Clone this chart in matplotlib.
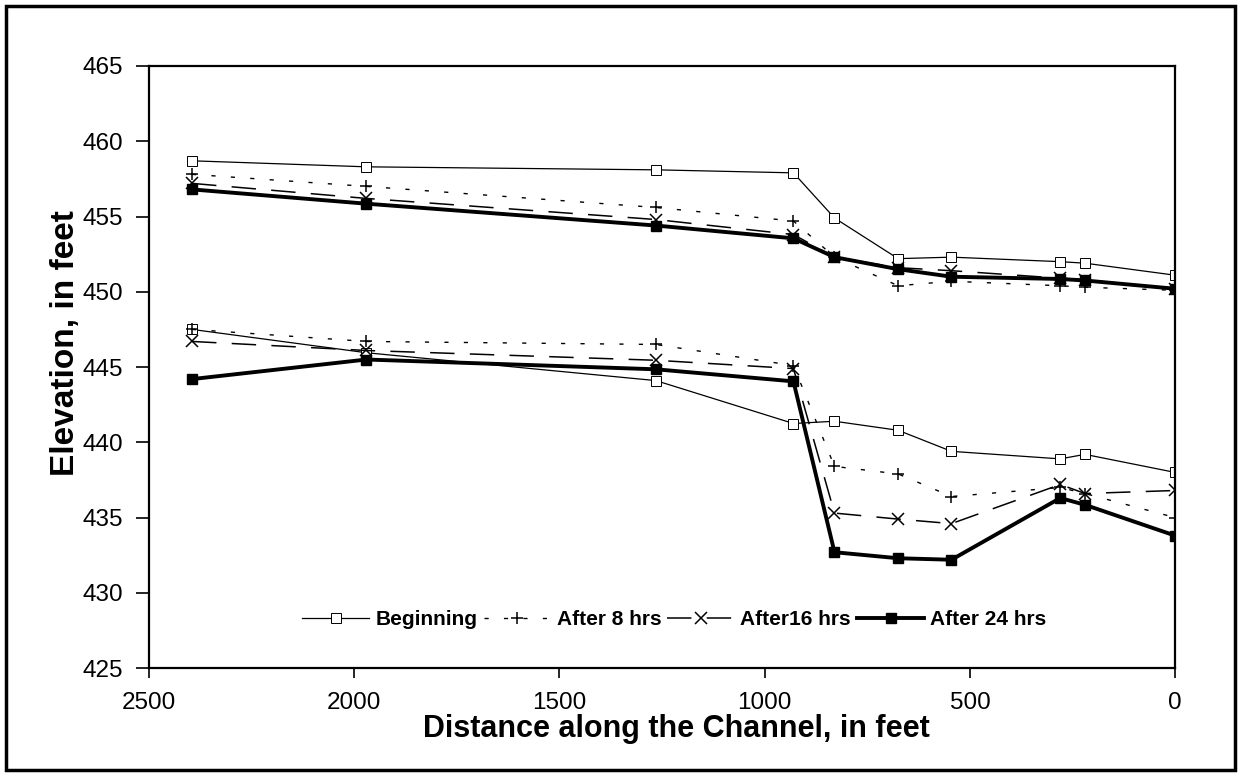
import matplotlib
matplotlib.use("Agg")
import matplotlib.pyplot as plt
from matplotlib.patches import Rectangle

plt.rcParams['font.family'] = ['Liberation Sans', 'DejaVu Sans']

# Station positions along the channel (feet)
distance = [2395, 1970, 1265, 930, 830, 675, 545, 280, 220, 0]

series_labels = ["Beginning", "After 8 hrs", "After16 hrs", "After 24 hrs"]

# Water-surface elevations (feet)
ws_begin = [458.7, 458.3, 458.1, 457.9, 454.9, 452.2, 452.3, 452.0, 451.9, 451.1]
ws_8hr = [457.8, 457.0, 455.6, 454.7, 452.3, 450.4, 450.7, 450.4, 450.3, 450.1]
ws_16hr = [457.2, 456.2, 454.8, 453.8, 452.3, 451.6, 451.4, 450.9, 450.8, 450.2]
ws_24hr = [456.8, 455.85, 454.4, 453.55, 452.3, 451.5, 451.0, 450.85, 450.75, 450.2]

# Channel-bed elevations (feet)
bed_begin = [447.5, 445.95, 444.1, 441.25, 441.4, 440.8, 439.4, 438.9, 439.2, 438.0]
bed_8hr = [447.5, 446.7, 446.5, 445.1, 438.4, 437.9, 436.4, 437.0, 436.6, 435.0]
bed_16hr = [446.7, 446.1, 445.45, 444.9, 435.3, 434.9, 434.6, 437.2, 436.6, 436.8]
bed_24hr = [444.2, 445.5, 444.85, 444.05, 432.7, 432.3, 432.2, 436.3, 435.85, 433.8]

x_ticks = [2500, 2000, 1500, 1000, 500, 0]
y_ticks = [425, 430, 435, 440, 445, 450, 455, 460, 465]

styles = [
    dict(color="black", lw=0.9, ls="-", marker="s", ms=7, mfc="white", mew=0.7),
    dict(color="black", lw=1.0, ls=(0, (3, 11)), marker="+", ms=9, mew=1.1),
    dict(color="black", lw=1.1, ls=(0, (16, 10)), marker="x", ms=8, mew=1.1),
    dict(color="black", lw=2.8, ls="-", marker="s", ms=7.5, mfc="black"),
]

fig = plt.figure(figsize=(12.41, 7.76), dpi=100)
ax = fig.add_axes([0.120, 0.139, 0.827, 0.776])

for st, ws, bed, lab in zip(styles,
                            [ws_begin, ws_8hr, ws_16hr, ws_24hr],
                            [bed_begin, bed_8hr, bed_16hr, bed_24hr],
                            series_labels):
    ax.plot(distance, ws, **st)
    ax.plot(distance, bed, label=lab, **st)

ax.set_xlim(2500, 0)
ax.set_ylim(425, 465)
ax.set_xticks(x_ticks)
ax.set_yticks(y_ticks)
ax.tick_params(axis="both", labelsize=17.5, direction="out", width=1.2)
ax.tick_params(axis="x", length=7, pad=10.5)
ax.tick_params(axis="y", length=9.5, pad=9)
for sp in ax.spines.values():
    sp.set_linewidth(1.6)

ax.set_xlabel("Distance along the Channel, in feet", fontsize=22,
              fontweight="bold", labelpad=0)
ax.xaxis.label.set_x(0.514)
ax.set_ylabel("Elevation, in feet", fontsize=24, fontweight="bold", labelpad=1)
ax.yaxis.label.set_y(0.54)

leg = ax.legend(loc="center", bbox_to_anchor=(0.512, 0.08), ncol=4,
                frameon=False, prop={"weight": "bold", "size": 15},
                handlelength=3.2, columnspacing=0.3, handletextpad=0.3)

fig.patches.append(Rectangle((0.005, 0.008), 0.99, 0.984, transform=fig.transFigure,
                             fill=False, lw=2.5, edgecolor="black"))

fig.savefig("out.png", dpi=100)
